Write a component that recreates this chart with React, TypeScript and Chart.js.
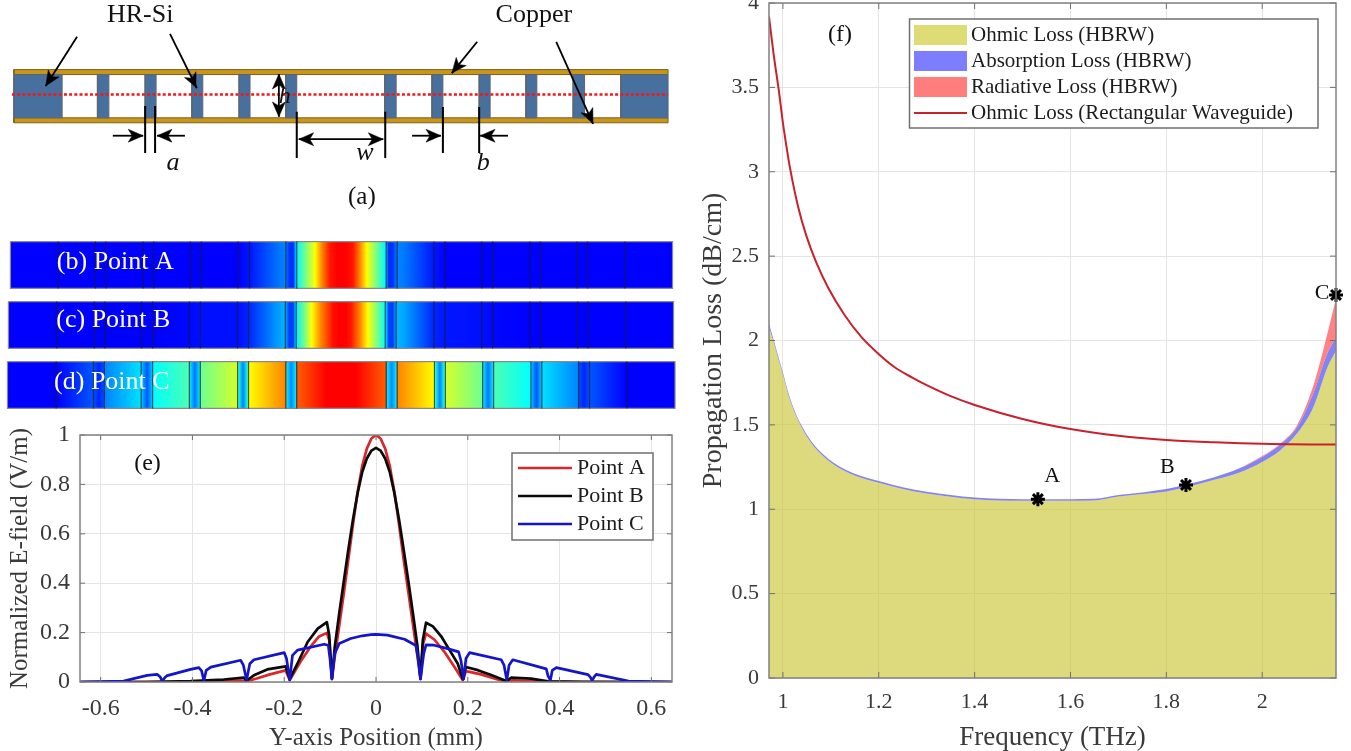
import React, { useEffect, useRef } from "react";
import { Chart, registerables } from "chart.js";
Chart.register(...registerables);

const SERIF = '"Liberation Serif"';
const INK = "#3a3a3a";

// ---------- (a) cross-section, micrometres ----------
const copperSpanUm = [-658, 658];
const copperTopUm = [40, 50];
const copperBottomUm = [-57, -47];
const siliconTopUm = 40;
const siliconBottomUm = -47;
const siliconBlocksUm = [
  [-658, -561], [-490, -467], [-394, -372], [-300, -278], [-205, -183], [-111, -89],
  [88, 111], [183, 205], [278, 300], [372, 394], [467, 490], [563, 658],
];
const centerLineUm = [-662, 658];
const dimensionLinesUm = [
  [-394, -23, -394, -118], [-374, -23, -374, -118],
  [-89, -35, -89, -128], [89, -35, 89, -128],
  [205, -25, 205, -118], [278, -25, 278, -118],
];
const arrowsUm = [
  [-459, -83, -398, -83], [-314, -83, -370, -83],
  [0, -90, -85, -90], [0, -90, 85, -90],
  [143, -83, 201, -83], [336, -83, 280, -83],
  [-125, 0, -125, 41], [-125, 0, -125, -45],
  [-531, 116, -594, 17], [-344, 122, -290, 13],
  [274, 106, 223, 43], [433, 106, 507, -59],
];

// ---------- (b)(c)(d) field maps: [position um, normalised level] ----------
const stripLabels = ["(b) Point A", "(c) Point B", "(d) Point C"];
const stripSpans = [[-665, 667], [-669, 669], [-671, 672]];
const stripDividers = [
  [-569, -494, -473, -398, -377, -303, -281, -207, -184, -111, -89, 91, 113, 187, 209, 283, 305, 380, 401, 475, 496, 571],
  [-572, -496, -475, -401, -379, -305, -283, -208, -186, -112, -90, 89, 111, 187, 209, 283, 305, 380, 401, 476, 497, 573],
  [-573, -498, -476, -402, -379, -305, -283, -208, -186, -111, -89, 91, 113, 188, 210, 285, 307, 382, 404, 478, 500, 575],
];
const stripPointA = [
  [-665, 0], [-207, 0], [-184, 0.03], [-125, 0.16], [-111, 0.18], [-104, 0.07], [-96, 0.06], [-89, 0.34],
  [-70, 0.5], [-52, 0.65], [-38, 0.82], [-22, 0.97], [-8, 1], [10, 1], [24, 0.97], [38, 0.82], [52, 0.65],
  [70, 0.5], [89, 0.34], [96, 0.06], [104, 0.07], [113, 0.18], [125, 0.17], [187, 0.03], [209, 0], [667, 0],
];
const stripPointB = [
  [-669, 0], [-380, 0], [-305, 0.01], [-283, 0.02], [-208, 0.02], [-186, 0.05], [-125, 0.22], [-112, 0.25],
  [-104, 0.08], [-96, 0.09], [-90, 0.33], [-72, 0.5], [-59, 0.65], [-40, 0.82], [-16, 0.98], [-5, 1], [10, 1],
  [20, 0.97], [38, 0.82], [54, 0.65], [72, 0.5], [89, 0.35], [96, 0.09], [104, 0.08], [111, 0.25], [125, 0.23],
  [187, 0.05], [209, 0.03], [283, 0.02], [305, 0.01], [380, 0], [669, 0],
];
const stripPointC = [
  [-671, 0], [-573, 0], [-498, 0.12], [-496, 0.1], [-487, 0.05], [-478, 0.1], [-476, 0.18], [-402, 0.31],
  [-400, 0.25], [-390, 0.12], [-381, 0.25], [-379, 0.35], [-305, 0.44], [-303, 0.3], [-294, 0.16], [-285, 0.3],
  [-283, 0.48], [-208, 0.6], [-206, 0.38], [-197, 0.18], [-188, 0.38], [-186, 0.65], [-111, 0.82], [-109, 0.32],
  [-100, 0.19], [-91, 0.32], [-89, 0.87], [-30, 1], [30, 1], [91, 0.87], [93, 0.32], [102, 0.19], [111, 0.32],
  [113, 0.82], [188, 0.65], [190, 0.38], [199, 0.18], [208, 0.38], [210, 0.6], [285, 0.48], [287, 0.3], [296, 0.16],
  [305, 0.3], [307, 0.44], [382, 0.35], [384, 0.25], [393, 0.12], [402, 0.25], [404, 0.31], [478, 0.18], [480, 0.1],
  [489, 0.05], [498, 0.1], [500, 0.12], [575, 0], [672, 0],
];
const stripStops = [stripPointA, stripPointB, stripPointC];

// ---------- (e) normalised E-field ----------
const eXTicks = [-0.6, -0.4, -0.2, 0, 0.2, 0.4, 0.6];
const eYTicks = [0, 0.2, 0.4, 0.6, 0.8, 1];
const pointAX = [-0.645, -0.42, -0.332, -0.295, -0.282, -0.26, -0.231, -0.197, -0.188, -0.165, -0.143, -0.125, -0.107, -0.102, -0.096, -0.09, -0.08, -0.07, -0.06, -0.05, -0.04, -0.03, -0.02, -0.01, 0, 0.01, 0.02, 0.03, 0.04, 0.05, 0.06, 0.07, 0.08, 0.09, 0.097, 0.102, 0.109, 0.127, 0.149, 0.171, 0.189, 0.196, 0.229, 0.265, 0.284, 0.3, 0.36, 0.45, 0.645];
const pointAY = [0, 0.001, 0.004, 0.006, 0.003, 0.014, 0.031, 0.047, 0.008, 0.081, 0.142, 0.183, 0.199, 0.17, 0.014, 0.1, 0.23, 0.36, 0.5, 0.64, 0.77, 0.875, 0.945, 0.986, 1, 0.986, 0.945, 0.875, 0.77, 0.64, 0.5, 0.37, 0.24, 0.11, 0.014, 0.15, 0.196, 0.172, 0.122, 0.061, 0.008, 0.044, 0.031, 0.01, 0.003, 0.007, 0.002, 0, 0];
const pointBX = [-0.645, -0.5, -0.404, -0.332, -0.288, -0.282, -0.266, -0.237, -0.197, -0.188, -0.171, -0.149, -0.127, -0.107, -0.102, -0.096, -0.09, -0.08, -0.07, -0.06, -0.05, -0.04, -0.03, -0.02, -0.01, 0, 0.01, 0.02, 0.03, 0.04, 0.05, 0.06, 0.07, 0.08, 0.09, 0.097, 0.102, 0.109, 0.124, 0.142, 0.16, 0.178, 0.189, 0.196, 0.222, 0.251, 0.284, 0.295, 0.338, 0.375, 0.45, 0.645];
const pointBY = [0, 0, 0.004, 0.01, 0.018, 0.006, 0.027, 0.051, 0.063, 0.012, 0.075, 0.162, 0.216, 0.242, 0.19, 0.014, 0.14, 0.28, 0.41, 0.54, 0.66, 0.765, 0.85, 0.905, 0.937, 0.948, 0.937, 0.905, 0.85, 0.765, 0.66, 0.54, 0.415, 0.285, 0.15, 0.014, 0.169, 0.24, 0.225, 0.185, 0.13, 0.075, 0.012, 0.061, 0.048, 0.028, 0.004, 0.018, 0.014, 0.003, 0.001, 0];
const pointCX = [-0.645, -0.55, -0.4985, -0.477, -0.47, -0.466, -0.46, -0.455, -0.404, -0.386, -0.38, -0.375, -0.37, -0.36, -0.295, -0.289, -0.282, -0.275, -0.266, -0.2, -0.195, -0.188, -0.182, -0.171, -0.113, -0.104, -0.1, -0.096, -0.09, -0.08, -0.055, -0.03, -0.011, 0, 0.025, 0.062, 0.087, 0.092, 0.097, 0.104, 0.109, 0.127, 0.156, 0.18, 0.185, 0.191, 0.196, 0.204, 0.273, 0.279, 0.285, 0.29, 0.298, 0.371, 0.375, 0.38, 0.384, 0.393, 0.462, 0.467, 0.471, 0.475, 0.48, 0.55, 0.645];
const pointCY = [0, 0.004, 0.027, 0.031, 0.02, 0.004, 0.018, 0.026, 0.051, 0.058, 0.045, 0.005, 0.047, 0.06, 0.088, 0.068, 0.008, 0.074, 0.09, 0.119, 0.095, 0.008, 0.108, 0.129, 0.153, 0.149, 0.09, 0.012, 0.115, 0.156, 0.176, 0.187, 0.192, 0.193, 0.19, 0.173, 0.148, 0.09, 0.012, 0.115, 0.15, 0.149, 0.135, 0.122, 0.088, 0.012, 0.095, 0.119, 0.09, 0.068, 0.008, 0.068, 0.09, 0.053, 0.024, 0.007, 0.047, 0.058, 0.03, 0.02, 0.006, 0.02, 0.031, 0.004, 0];

// ---------- (f) propagation loss ----------
const fXTicks = [1, 1.2, 1.4, 1.6, 1.8, 2];
const fYTicks = [0, 0.5, 1, 1.5, 2, 2.5, 3, 3.5, 4];
const frequencyTHz = [0.971, 0.98, 0.99, 1.0, 1.0125, 1.025, 1.04, 1.06, 1.086, 1.12, 1.16, 1.2, 1.25, 1.3, 1.4, 1.5, 1.6, 1.65, 1.7, 1.75, 1.8, 1.84, 1.9, 1.95, 2.0, 2.038, 2.073, 2.107, 2.136, 2.154];
const ohmicLoss = [2.08, 1.995, 1.897, 1.798, 1.668, 1.57, 1.48, 1.39, 1.31, 1.24, 1.19, 1.157, 1.12, 1.094, 1.06, 1.05, 1.05, 1.052, 1.075, 1.09, 1.105, 1.13, 1.175, 1.215, 1.28, 1.35, 1.45, 1.606, 1.84, 1.94];
const absorptionTop = [2.1, 2.01, 1.91, 1.81, 1.68, 1.58, 1.49, 1.4, 1.32, 1.25, 1.2, 1.167, 1.13, 1.104, 1.07, 1.06, 1.06, 1.062, 1.085, 1.1, 1.12, 1.145, 1.19, 1.24, 1.31, 1.385, 1.487, 1.69, 1.925, 2.02];
const radiativeTop = [2.1, 2.01, 1.91, 1.81, 1.68, 1.58, 1.49, 1.4, 1.32, 1.25, 1.2, 1.167, 1.13, 1.104, 1.07, 1.06, 1.06, 1.062, 1.085, 1.1, 1.12, 1.145, 1.19, 1.24, 1.315, 1.39, 1.5, 1.735, 2.04, 2.25];
const rectFrequencyTHz = [0.971, 0.98, 0.992, 1.0, 1.008, 1.015, 1.032, 1.049, 1.07, 1.095, 1.129, 1.164, 1.199, 1.234, 1.27, 1.3, 1.35, 1.4, 1.5, 1.6, 1.7, 1.8, 1.9, 2.0, 2.154];
const rectOhmicLoss = [3.92, 3.71, 3.47, 3.29, 3.14, 3.02, 2.79, 2.62, 2.46, 2.31, 2.15, 2.02, 1.922, 1.84, 1.78, 1.735, 1.67, 1.618, 1.535, 1.475, 1.435, 1.41, 1.397, 1.388, 1.383];
const markerFrequencyTHz = [1.532, 1.841, 2.154];
const markerLoss = [1.06, 1.144, 2.27];

// ---------- helpers ----------
type Note = { text: string; x: number; y: number; font: string; color?: string };

function notesPlugin(notes: Note[]) {
  return {
    id: "notes",
    afterDatasetsDraw(chart: any) {
      const { ctx, scales } = chart;
      ctx.save();
      ctx.textAlign = "center";
      ctx.textBaseline = "middle";
      for (const n of notes) {
        ctx.font = n.font;
        ctx.fillStyle = n.color || "#111";
        ctx.fillText(n.text, scales.x.getPixelForValue(n.x), scales.y.getPixelForValue(n.y));
      }
      ctx.restore();
    },
  };
}

function framePlugin(tickLength: number) {
  return {
    id: "frame",
    afterDatasetsDraw(chart: any) {
      const { ctx, chartArea: a, scales } = chart;
      ctx.save();
      ctx.strokeStyle = "#6e6e6e";
      ctx.lineWidth = 1;
      ctx.beginPath();
      for (const t of scales.x.ticks) {
        const p = scales.x.getPixelForValue(t.value);
        ctx.moveTo(p, a.bottom);
        ctx.lineTo(p, a.bottom - tickLength);
        ctx.moveTo(p, a.top);
        ctx.lineTo(p, a.top + tickLength);
      }
      for (const t of scales.y.ticks) {
        const p = scales.y.getPixelForValue(t.value);
        ctx.moveTo(a.left, p);
        ctx.lineTo(a.left + tickLength, p);
        ctx.moveTo(a.right, p);
        ctx.lineTo(a.right - tickLength, p);
      }
      ctx.stroke();
      ctx.strokeStyle = "#808080";
      ctx.lineWidth = 1.5;
      ctx.strokeRect(a.left, a.top, a.right - a.left, a.bottom - a.top);
      ctx.restore();
    },
  };
}

type LegendSpec = {
  box: number[];
  markX: number[];
  textX: number;
  rowY: number[];
  rowH: number;
  font: string;
  rows: { dataset: number; swatch?: string }[];
};

function boxLegendPlugin(spec: LegendSpec) {
  return {
    id: "boxLegend",
    afterDraw(chart: any) {
      const { ctx } = chart;
      const [l, t, r, b] = spec.box;
      ctx.save();
      ctx.fillStyle = "#fff";
      ctx.fillRect(l, t, r - l, b - t);
      ctx.strokeStyle = "#707070";
      ctx.lineWidth = 1.5;
      ctx.strokeRect(l, t, r - l, b - t);
      ctx.textAlign = "left";
      ctx.textBaseline = "middle";
      ctx.font = spec.font;
      spec.rows.forEach((row, i) => {
        const ds = chart.data.datasets[row.dataset];
        const y = spec.rowY[i];
        if (row.swatch) {
          ctx.fillStyle = row.swatch;
          ctx.fillRect(spec.markX[0], y - spec.rowH / 2, spec.markX[1] - spec.markX[0], spec.rowH);
        } else {
          ctx.strokeStyle = ds.borderColor;
          ctx.lineWidth = ds.borderWidth;
          ctx.beginPath();
          ctx.moveTo(spec.markX[0], y);
          ctx.lineTo(spec.markX[1], y);
          ctx.stroke();
        }
        ctx.fillStyle = "#1c1c1c";
        ctx.fillText(ds.label, spec.textX, y);
      });
      ctx.restore();
    },
  };
}

function fixedAxis(size: number, prop: "width" | "height") {
  return (scale: any) => {
    scale[prop] = size;
    scale.paddingTop = 0;
    scale.paddingBottom = 0;
    scale.paddingLeft = 0;
    scale.paddingRight = 0;
  };
}

function levelColor(l: number) {
  if (l <= 0.35) return `rgb(0,${Math.round((255 * l) / 0.35)},255)`;
  if (l <= 0.65) {
    const t = (l - 0.35) / 0.3;
    return `rgb(${Math.round(255 * t)},255,${Math.round(255 * (1 - t))})`;
  }
  const t = (l - 0.65) / 0.35;
  return `rgb(255,${Math.round(255 * (1 - t))},0)`;
}

function rectPoints(x0: number, x1: number, y0: number, y1: number) {
  return [
    { x: x0, y: y0 },
    { x: x1, y: y0 },
    { x: x1, y: y1 },
    { x: x0, y: y1 },
    { x: x0, y: y0 },
  ];
}

function shape(points: any[], fillColor: any, stroke: string, width: number) {
  return {
    type: "scatter",
    data: points,
    showLine: true,
    fill: "shape",
    backgroundColor: fillColor,
    borderColor: stroke,
    borderWidth: width,
    pointRadius: 0,
  };
}

function stroke(points: any[], color: string, width: number, dash?: number[]) {
  return {
    type: "scatter",
    data: points,
    showLine: true,
    fill: false,
    borderColor: color,
    borderWidth: width,
    borderDash: dash || [],
    pointRadius: 0,
  };
}

function arrowHead(a: number[]) {
  const [x0, y0, x1, y1] = a;
  const len = Math.hypot(x1 - x0, y1 - y0) || 1;
  const ux = (x1 - x0) / len;
  const uy = (y1 - y0) / len;
  const head = 30;
  const half = 13;
  const notch = 22;
  return [
    { x: x1, y: y1 },
    { x: x1 - ux * head - uy * half, y: y1 - uy * head + ux * half },
    { x: x1 - ux * notch, y: y1 - uy * notch },
    { x: x1 - ux * head + uy * half, y: y1 - uy * head - ux * half },
    { x: x1, y: y1 },
  ];
}

const hiddenAxis = (min: number, max: number, reverse = false) => ({
  type: "linear",
  display: false,
  min,
  max,
  reverse,
});

function baseOptions() {
  return {
    responsive: false,
    maintainAspectRatio: false,
    animation: false,
    events: [],
    plugins: { legend: { display: false }, tooltip: { enabled: false }, title: { display: false } },
  };
}

function plotAxis(
  min: number,
  max: number,
  ticks: number[],
  title: string,
  fontSize: number,
  titleSize: number,
  tickPad: number,
  titlePad: number,
  size: number,
  prop: "width" | "height"
) {
  return {
    type: "linear",
    min,
    max,
    afterBuildTicks: (axis: any) => {
      axis.ticks = ticks.map((value) => ({ value }));
    },
    afterFit: fixedAxis(size, prop),
    grid: { color: "#e4e4e4", lineWidth: 1, drawTicks: false },
    border: { display: false },
    ticks: {
      autoSkip: false,
      maxRotation: 0,
      padding: tickPad,
      color: INK,
      font: { family: SERIF, size: fontSize },
      callback: (v: any) => String(v),
    },
    title: {
      display: true,
      text: title,
      color: INK,
      padding: { top: titlePad, bottom: 0 },
      font: { family: SERIF, size: titleSize, lineHeight: 1 },
    },
  };
}

const pairs = (xs: number[], ys: number[]) => xs.map((x, i) => ({ x, y: ys[i] }));

export default function App() {
  const aRef = useRef<HTMLCanvasElement>(null);
  const stripRef = useRef<HTMLCanvasElement>(null);
  const eRef = useRef<HTMLCanvasElement>(null);
  const fRef = useRef<HTMLCanvasElement>(null);

  useEffect(() => {
    document.body.style.margin = "0";
    const SI = "#47709f";
    const COPPER = "#c9961c";
    const layers: any[] = [
      shape(rectPoints(copperSpanUm[0], copperSpanUm[1], copperTopUm[0], copperTopUm[1]), COPPER, "#7d6118", 1),
      shape(rectPoints(copperSpanUm[0], copperSpanUm[1], copperBottomUm[0], copperBottomUm[1]), COPPER, "#7d6118", 1),
      ...siliconBlocksUm.map((b) => shape(rectPoints(b[0], b[1], siliconBottomUm, siliconTopUm), SI, "#5b6672", 1)),
      stroke([{ x: centerLineUm[0], y: 0 }, { x: centerLineUm[1], y: 0 }], "#f01818", 2.5, [3, 2.2]),
      ...dimensionLinesUm.map((d) => stroke([{ x: d[0], y: d[1] }, { x: d[2], y: d[3] }], "#000", 2)),
      ...arrowsUm.map((a) => stroke([{ x: a[0], y: a[1] }, { x: a[2], y: a[3] }], "#000", 1.8)),
      ...arrowsUm.map((a) => shape(arrowHead(a), "#000", "#000", 0.5)),
    ];
    const chartA = new Chart(aRef.current as any, {
      type: "scatter",
      data: { datasets: layers.reverse() },
      options: {
        ...baseOptions(),
        scales: { x: hiddenAxis(-686, 682), y: hiddenAxis(-242.5, 190) },
      },
      plugins: [
        notesPlugin([
          { text: "HR-Si", x: -404, y: 160, font: `26px ${SERIF}` },
          { text: "Copper", x: 388, y: 160, font: `26px ${SERIF}` },
          { text: "a", x: -338, y: -138, font: `italic 26px ${SERIF}` },
          { text: "w", x: 48, y: -118, font: `italic 26px ${SERIF}` },
          { text: "b", x: 286, y: -138, font: `italic 26px ${SERIF}` },
          { text: "h", x: -113, y: -5, font: `italic 24px ${SERIF}` },
          { text: "(a)", x: 42, y: -208, font: `25px ${SERIF}` },
        ]),
      ],
    } as any);

    const STRIP_HALF = 0.39;
    const stripSets: any[] = [];
    stripSpans.forEach((span, row) => {
      stripSets.push(
        stroke(
          stripDividers[row].flatMap((x) => [
            { x, y: row - STRIP_HALF },
            { x, y: row + STRIP_HALF },
            { x, y: NaN },
          ]),
          "rgba(20,30,50,0.75)",
          1.2
        )
      );
      const fillColor = (c: any) => {
        const xs = c.chart.scales.x;
        if (!xs) return "#00f";
        const p0 = xs.getPixelForValue(span[0]);
        const p1 = xs.getPixelForValue(span[1]);
        if (!Number.isFinite(p0) || !Number.isFinite(p1)) return "#00f";
        const g = c.chart.ctx.createLinearGradient(p0, 0, p1, 0);
        for (const [pos, level] of stripStops[row]) {
          g.addColorStop((pos - span[0]) / (span[1] - span[0]), levelColor(level));
        }
        return g;
      };
      stripSets.push(
        shape(rectPoints(span[0], span[1], row - STRIP_HALF, row + STRIP_HALF), fillColor, "#8a8a8a", 1.2)
      );
    });
    const chartStrip = new Chart(stripRef.current as any, {
      type: "scatter",
      data: { datasets: stripSets },
      options: {
        ...baseOptions(),
        scales: { x: hiddenAxis(-686, 682), y: hiddenAxis(-0.5, 2.5, true) },
      },
      plugins: [
        notesPlugin([
          { text: stripLabels[0], x: -454, y: -0.05, font: `26px ${SERIF}`, color: "#fff" },
          { text: stripLabels[1], x: -458, y: 0.92, font: `26px ${SERIF}`, color: "#fff" },
          { text: stripLabels[2], x: -461, y: 1.95, font: `26px ${SERIF}`, color: "#fff" },
        ]),
      ],
    } as any);

    const fieldLine = (label: string, color: string, xs: number[], ys: number[], order: number) => ({
      label,
      data: pairs(xs, ys),
      showLine: true,
      fill: false,
      borderColor: color,
      borderWidth: 2.7,
      borderJoinStyle: "round",
      pointRadius: 0,
      order,
    });
    const chartE = new Chart(eRef.current as any, {
      type: "scatter",
      data: {
        datasets: [
          fieldLine("Point A", "#d8282c", pointAX, pointAY, 3),
          fieldLine("Point B", "#0a0a0a", pointBX, pointBY, 2),
          fieldLine("Point C", "#1414c8", pointCX, pointCY, 1),
        ],
      },
      options: {
        ...baseOptions(),
        layout: { autoPadding: false, padding: { top: 15, right: 18, left: 0, bottom: 0 } },
        scales: {
          x: plotAxis(-0.645, 0.645, eXTicks, "Y-axis Position (mm)", 24, 25, 12, 4, 69, "height"),
          y: plotAxis(0, 1, eYTicks, "Normalized E-field (V/m)", 24, 25, 10, 8, 80, "width"),
        },
      },
      plugins: [
        framePlugin(5),
        notesPlugin([{ text: "(e)", x: -0.498, y: 0.885, font: `24px ${SERIF}` }]),
        boxLegendPlugin({
          box: [512, 33, 653, 120],
          markX: [518, 572],
          textX: 577,
          rowY: [48, 76, 104],
          rowH: 0,
          font: `22px ${SERIF}`,
          rows: [{ dataset: 0 }, { dataset: 1 }, { dataset: 2 }],
        }),
      ],
    } as any);

    const band = (label: string, ys: number[], color: string, fill: any, order: number) => ({
      label,
      data: pairs(frequencyTHz, ys),
      showLine: true,
      fill,
      backgroundColor: color,
      borderColor: color,
      borderWidth: 0,
      pointRadius: 0,
      cubicInterpolationMode: "monotone",
      order,
    });
    const chartF = new Chart(fRef.current as any, {
      type: "scatter",
      data: {
        datasets: [
          band("Ohmic Loss (HBRW)", ohmicLoss, "rgba(203,201,62,0.68)", "origin", 5),
          band("Absorption Loss (HBRW)", absorptionTop, "rgba(100,100,240,0.8)", 0, 4),
          band("Radiative Loss (HBRW)", radiativeTop, "rgba(255,90,90,0.75)", 1, 3),
          {
            label: "Ohmic Loss (Rectangular Waveguide)",
            data: pairs(rectFrequencyTHz, rectOhmicLoss),
            showLine: true,
            fill: false,
            borderColor: "#c8202c",
            borderWidth: 2,
            pointRadius: 0,
            cubicInterpolationMode: "monotone",
            order: 2,
          },
          {
            label: "Operating points",
            data: pairs(markerFrequencyTHz, markerLoss),
            showLine: false,
            pointStyle: "star",
            pointRadius: 7,
            pointBorderWidth: 3,
            pointBorderColor: "#000",
            pointBackgroundColor: "#000",
            clip: false,
            order: 1,
          },
        ],
      },
      options: {
        ...baseOptions(),
        layout: { autoPadding: false, padding: { top: 3, right: 15, left: 0, bottom: 0 } },
        scales: {
          x: plotAxis(0.971, 2.154, fXTicks, "Frequency (THz)", 22, 27, 11, 6, 73, "height"),
          y: plotAxis(0, 4, fYTicks, "Propagation Loss (dB/cm)", 22, 28, 10, 0, 69, "width"),
        },
      },
      plugins: [
        framePlugin(6),
        notesPlugin([
          { text: "(f)", x: 1.119, y: 3.81, font: `24px ${SERIF}` },
          { text: "A", x: 1.562, y: 1.197, font: `22px ${SERIF}` },
          { text: "B", x: 1.802, y: 1.25, font: `22px ${SERIF}` },
          { text: "C", x: 2.125, y: 2.28, font: `22px ${SERIF}` },
        ]),
        boxLegendPlugin({
          box: [209.5, 19, 618, 128],
          markX: [214, 267],
          textX: 271,
          rowY: [35, 61, 87, 113],
          rowH: 20,
          font: `21px ${SERIF}`,
          rows: [
            { dataset: 0, swatch: "#dedc74" },
            { dataset: 1, swatch: "#7d7dff" },
            { dataset: 2, swatch: "#ff7d7d" },
            { dataset: 3 },
          ],
        }),
      ],
    } as any);

    return () => {
      chartA.destroy();
      chartStrip.destroy();
      chartE.destroy();
      chartF.destroy();
    };
  }, []);

  const at = (left: number, top: number): React.CSSProperties => ({ position: "absolute", left, top });
  return (
    <div style={{ position: "fixed", left: 0, top: 0, width: 1351, height: 751, overflow: "hidden", background: "#fff" }}>
      <canvas ref={aRef} width={680} height={215} style={at(0, 0)} />
      <canvas ref={stripRef} width={680} height={180} style={at(0, 235)} />
      <canvas ref={eRef} width={690} height={331} style={at(0, 420)} />
      <canvas ref={fRef} width={651} height={751} style={at(700, 0)} />
    </div>
  );
}
